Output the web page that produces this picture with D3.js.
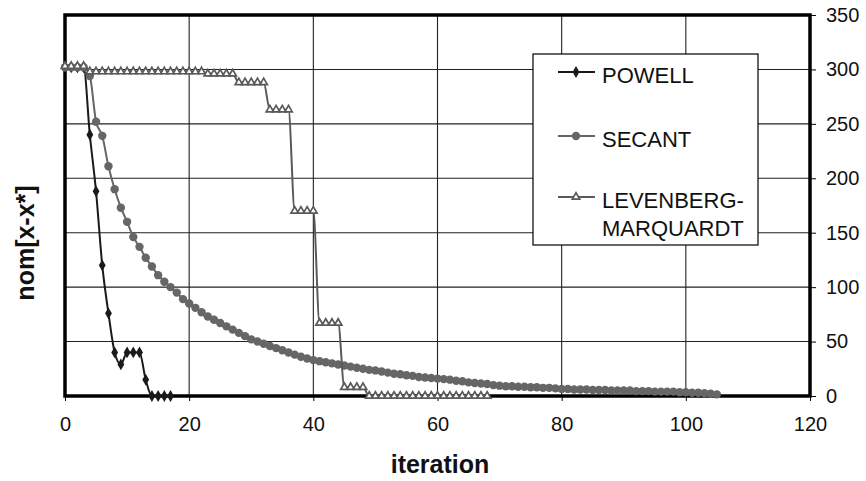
<!DOCTYPE html>
<html><head><meta charset="utf-8">
<script src="https://cdn.jsdelivr.net/npm/d3@7"></script>
<style>body{margin:0;background:#fff}svg{display:block;font-family:"Liberation Sans",Arial,sans-serif}</style>
</head><body><svg id="c" width="866" height="481"></svg>
<script>
const xTicks = [0, 20, 40, 60, 80, 100, 120];
const yTicks = [0, 50, 100, 150, 200, 250, 300, 350];
const seriesNames = ["POWELL", "SECANT", "LEVENBERG-MARQUARDT"];
const xTitle = "iteration";
const yTitle = "nom[x-x*]";
// values per iteration (index = iteration)
const powell = [302, 302, 302, 302, 240, 188, 120, 76, 40, 29, 40, 40, 40, 15, 0, 0, 0, 0];
const secant = [302, 302, 302, 302, 294, 252, 239, 211, 190, 173,
  160, 146, 137, 127, 119, 111, 105, 100, 95, 89,
  85, 81, 77, 73, 70, 67, 64, 61, 58, 55,
  52, 50, 48, 46, 44, 42, 40, 38, 36, 34.5,
  33, 32, 31, 30, 29, 28, 27, 26, 25, 24,
  23.5, 22.5, 21.5, 20.5, 20, 19, 18.5, 17.5, 17, 16.5,
  16, 15.5, 15, 14, 13.5, 12.5, 12, 11.5, 11, 10,
  9.5, 9, 9, 8.5, 8.5, 8, 8, 7.5, 7.5, 7,
  6.5, 6.5, 6, 6, 6, 5.5, 5.5, 5.5, 5, 5,
  5, 5, 4.5, 4.5, 4.5, 4, 4, 4, 4, 3.5,
  3.5, 3, 3, 2.5, 2, 1.5];
const levenberg = [303, 303, 303, 303,
  298, 298, 298, 298, 298, 298, 298, 298, 298, 298, 298, 298, 298, 298, 298, 298, 298, 298, 298,
  296, 296, 296, 296, 296,
  288, 288, 288, 288, 288,
  263, 263, 263, 263,
  170, 170, 170, 170,
  67, 67, 67, 67,
  8, 8, 8, 8,
  0, 0, 0, 0, 0, 0, 0, 0, 0, 0, 0, 0, 0, 0, 0, 0, 0, 0, 0, 0];

const svg = d3.select("#c");
svg.append("rect").attr("width", 866).attr("height", 481).attr("fill", "#fff");
const x = d3.scaleLinear().domain([0, 120]).range([65, 810]);
const y = d3.scaleLinear().domain([0, 350]).range([396, 15]);

// gridlines
const grid = svg.append("g");
grid.selectAll("line.h").data(yTicks.filter(v => v > 0 && v < 350)).join("line")
  .attr("x1", x(0)).attr("x2", x(120)).attr("y1", d => y(d)).attr("y2", d => y(d))
  .attr("stroke", "#222").attr("stroke-width", 1.1);
grid.selectAll("line.v").data(xTicks.filter(v => v > 0 && v < 120)).join("line")
  .attr("y1", y(0)).attr("y2", y(350)).attr("x1", d => x(d)).attr("x2", d => x(d))
  .attr("stroke", "#222").attr("stroke-width", 1.1);

// axes
const bottom = svg.append("g").attr("transform", `translate(0,${y(0)})`)
  .call(d3.axisBottom(x).tickValues(xTicks).tickSize(5).tickPadding(16));
const right = svg.append("g").attr("transform", `translate(${x(120)},0)`)
  .call(d3.axisRight(y).tickValues(yTicks).tickSize(6).tickPadding(10));
[bottom, right].forEach(g => {
  g.select(".domain").remove();
  g.selectAll("text").attr("font-size", 20).attr("fill", "#111").attr("font-family", "Liberation Sans, Arial, sans-serif");
  g.selectAll(".tick line").attr("stroke", "#000");
});

// frame
svg.append("rect").attr("x", x(0)).attr("y", y(350)).attr("width", x(120) - x(0)).attr("height", y(0) - y(350))
  .attr("fill", "none").attr("stroke", "#000").attr("stroke-width", 3.5);

const curve = d3.curveMonotoneX;
const lineGen = d3.line().x((d, i) => x(i)).y(d => y(d)).curve(curve);

// POWELL
svg.append("path").attr("d", lineGen(powell)).attr("fill", "none").attr("stroke", "#1a1a1a").attr("stroke-width", 2);
svg.append("g").selectAll("path").data(powell).join("path")
  .attr("d", d3.symbol(d3.symbolDiamond, 40))
  .attr("transform", (d, i) => `translate(${x(i)},${y(d)})`).attr("fill", "#1a1a1a");

// SECANT
svg.append("path").attr("d", lineGen(secant)).attr("fill", "none").attr("stroke", "#666").attr("stroke-width", 2);
svg.append("g").selectAll("circle").data(secant).join("circle")
  .attr("cx", (d, i) => x(i)).attr("cy", d => y(d)).attr("r", 4.2).attr("fill", "#666");

// LEVENBERG-MARQUARDT
svg.append("path").attr("d", lineGen(levenberg)).attr("fill", "none").attr("stroke", "#5a5a5a").attr("stroke-width", 2);
svg.append("g").selectAll("path").data(levenberg).join("path")
  .attr("d", d3.symbol(d3.symbolTriangle, 24))
  .attr("transform", (d, i) => `translate(${x(i)},${y(d)})`)
  .attr("fill", "#fff").attr("stroke", "#5a5a5a").attr("stroke-width", 1.7);

// titles
svg.append("text").attr("x", 440).attr("y", 473).attr("text-anchor", "middle")
  .attr("font-size", 25).attr("font-weight", "bold").attr("fill", "#111").text(xTitle);
svg.append("text").attr("transform", "translate(34,243) rotate(-90)").attr("text-anchor", "middle")
  .attr("font-size", 25).attr("font-weight", "bold").attr("fill", "#111").text(yTitle);

// legend
const lg = svg.append("g");
lg.append("rect").attr("x", 533).attr("y", 54).attr("width", 225).attr("height", 191)
  .attr("fill", "#fff").attr("stroke", "#000").attr("stroke-width", 1.2);
const legendY = [72, 136, 197];
const colors = ["#1a1a1a", "#666", "#5a5a5a"];
seriesNames.forEach((name, k) => {
  const ly = legendY[k];
  lg.append("line").attr("x1", 558).attr("x2", 595).attr("y1", ly).attr("y2", ly)
    .attr("stroke", colors[k]).attr("stroke-width", 2);
  if (k === 0) lg.append("path").attr("d", d3.symbol(d3.symbolDiamond, 40)).attr("transform", `translate(576,${ly})`).attr("fill", colors[k]);
  if (k === 1) lg.append("circle").attr("cx", 576).attr("cy", ly).attr("r", 4.2).attr("fill", colors[k]);
  if (k === 2) lg.append("path").attr("d", d3.symbol(d3.symbolTriangle, 24)).attr("transform", `translate(576,${ly})`)
    .attr("fill", "#fff").attr("stroke", colors[k]).attr("stroke-width", 1.7);
  const parts = name === "LEVENBERG-MARQUARDT" ? ["LEVENBERG-", "MARQUARDT"] : [name];
  parts.forEach((p, j) => {
    lg.append("text").attr("x", 602).attr("y", ly + 10.5 + j * 28).attr("font-size", 22).attr("fill", "#111").text(p);
  });
});
</script>
</body></html>
